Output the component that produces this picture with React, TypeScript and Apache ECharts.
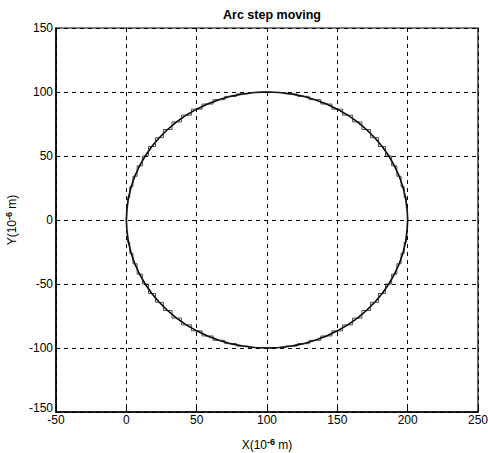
import React, { useEffect, useRef } from "react";
import * as echarts from "echarts";

const TITLE = "Arc step moving";
const X_TICKS = [-50, 0, 50, 100, 150, 200, 250];
const Y_TICKS = [-150, -100, -50, 0, 50, 100, 150];

const pathX = [
  200, 199.6, 198.5, 196.6, 194.0, 190.6, 186.6, 181.9, 176.6, 170.7, 164.3, 157.4, 150, 142.3, 134.2, 125.9,
  117.4, 108.7, 100, 91.3, 82.6, 74.1, 65.8, 57.7, 50, 42.6, 35.7, 29.3, 23.4, 18.1, 13.4, 9.4, 6.0, 3.4, 1.5,
  0.4, 0, 0.4, 1.5, 3.4, 6.0, 9.4, 13.4, 18.1, 23.4, 29.3, 35.7, 42.6, 50, 57.7, 65.8, 74.1, 82.6, 91.3, 100,
  108.7, 117.4, 125.9, 134.2, 142.3, 150, 157.4, 164.3, 170.7, 176.6, 181.9, 186.6, 190.6, 194.0, 196.6, 198.5,
  199.6, 200,
];
const pathY = [
  0, 8.7, 17.4, 25.9, 34.2, 42.3, 50, 57.4, 64.3, 70.7, 76.6, 81.9, 86.6, 90.6, 94.0, 96.6, 98.5, 99.6, 100,
  99.6, 98.5, 96.6, 94.0, 90.6, 86.6, 81.9, 76.6, 70.7, 64.3, 57.4, 50, 42.3, 34.2, 25.9, 17.4, 8.7, 0, -8.7,
  -17.4, -25.9, -34.2, -42.3, -50, -57.4, -64.3, -70.7, -76.6, -81.9, -86.6, -90.6, -94.0, -96.6, -98.5, -99.6,
  -100, -99.6, -98.5, -96.6, -94.0, -90.6, -86.6, -81.9, -76.6, -70.7, -64.3, -57.4, -50, -42.3, -34.2, -25.9,
  -17.4, -8.7, 0,
];

export default function App() {
  const ref = useRef<HTMLDivElement>(null);
  useEffect(() => {
    if (!ref.current) return;
    const chart = echarts.init(ref.current, null, { renderer: "svg" });
    const data = pathX.map((x, i) => [x, pathY[i]]);
    const font = "Liberation Sans, Arial, sans-serif";
    const nameStyle = {
      fontFamily: font,
      fontSize: 12,
      color: "#000",
      rich: { sup: { fontSize: 9, verticalAlign: "top", padding: [0, 0, 7, 0], fontFamily: font, color: "#000", fontWeight: "bold" } },
    };
    chart.setOption({
      animation: false,
      backgroundColor: "#ffffff",
      title: {
        text: TITLE,
        left: 267,
        textAlign: "center",
        top: 3,
        textStyle: { fontFamily: font, fontSize: 12.5, fontWeight: "bold", color: "#000" },
      },
      grid: { left: 56, right: 10, top: 28, bottom: 41, containLabel: false, outerBoundsMode: "none" },
      xAxis: {
        type: "value",
        min: X_TICKS[0],
        max: X_TICKS[X_TICKS.length - 1],
        interval: 50,
        name: "X(10{sup|-6} m)",
        nameLocation: "middle",
        nameGap: 25,
        nameTextStyle: nameStyle,
        axisLine: { show: true, onZero: false, lineStyle: { color: "#000", width: 1.5 } },
        axisTick: { show: true, inside: true, length: 4, lineStyle: { color: "#000" } },
        axisLabel: { fontFamily: font, fontSize: 12, color: "#000", margin: 2 },
        splitLine: { show: true, lineStyle: { color: "#000", type: [4, 4], width: 1 } },
      },
      yAxis: {
        type: "value",
        min: Y_TICKS[0],
        max: Y_TICKS[Y_TICKS.length - 1],
        interval: 50,
        name: "Y(10{sup|-6} m)",
        nameLocation: "middle",
        nameGap: 32,
        nameRotate: 90,
        nameTextStyle: nameStyle,
        axisLine: { show: true, onZero: false, lineStyle: { color: "#000", width: 1.5 } },
        axisTick: { show: true, inside: true, length: 4, lineStyle: { color: "#000" } },
        axisLabel: {
          fontFamily: font,
          fontSize: 12,
          color: "#000",
          margin: 3,
          formatter: (v: number) => (v === Y_TICKS[0] ? `{lo|${v}}` : `${v}`),
          rich: { lo: { fontFamily: font, fontSize: 12, color: "#000", padding: [0, 0, 9, 0] } },
        },
        splitLine: { show: true, lineStyle: { color: "#000", type: [4, 4], width: 1 } },
      },
      graphic: [
        {
          type: "rect",
          shape: { x: 56, y: 28, width: 422, height: 384 },
          style: { fill: "none", stroke: "#000", lineWidth: 1.2 },
          z: 100,
          silent: true,
        },
      ],
      series: [
        {
          type: "line",
          data,
          showSymbol: false,
          lineStyle: { color: "#000", width: 1.6 },
        },
        {
          type: "line",
          data,
          step: "middle",
          showSymbol: false,
          lineStyle: { color: "#222", width: 0.8 },
        },
      ],
    });
    return () => chart.dispose();
  }, []);
  return <div ref={ref} style={{ width: 488, height: 453, position: "absolute", left: 0, top: 0 }} />;
}
